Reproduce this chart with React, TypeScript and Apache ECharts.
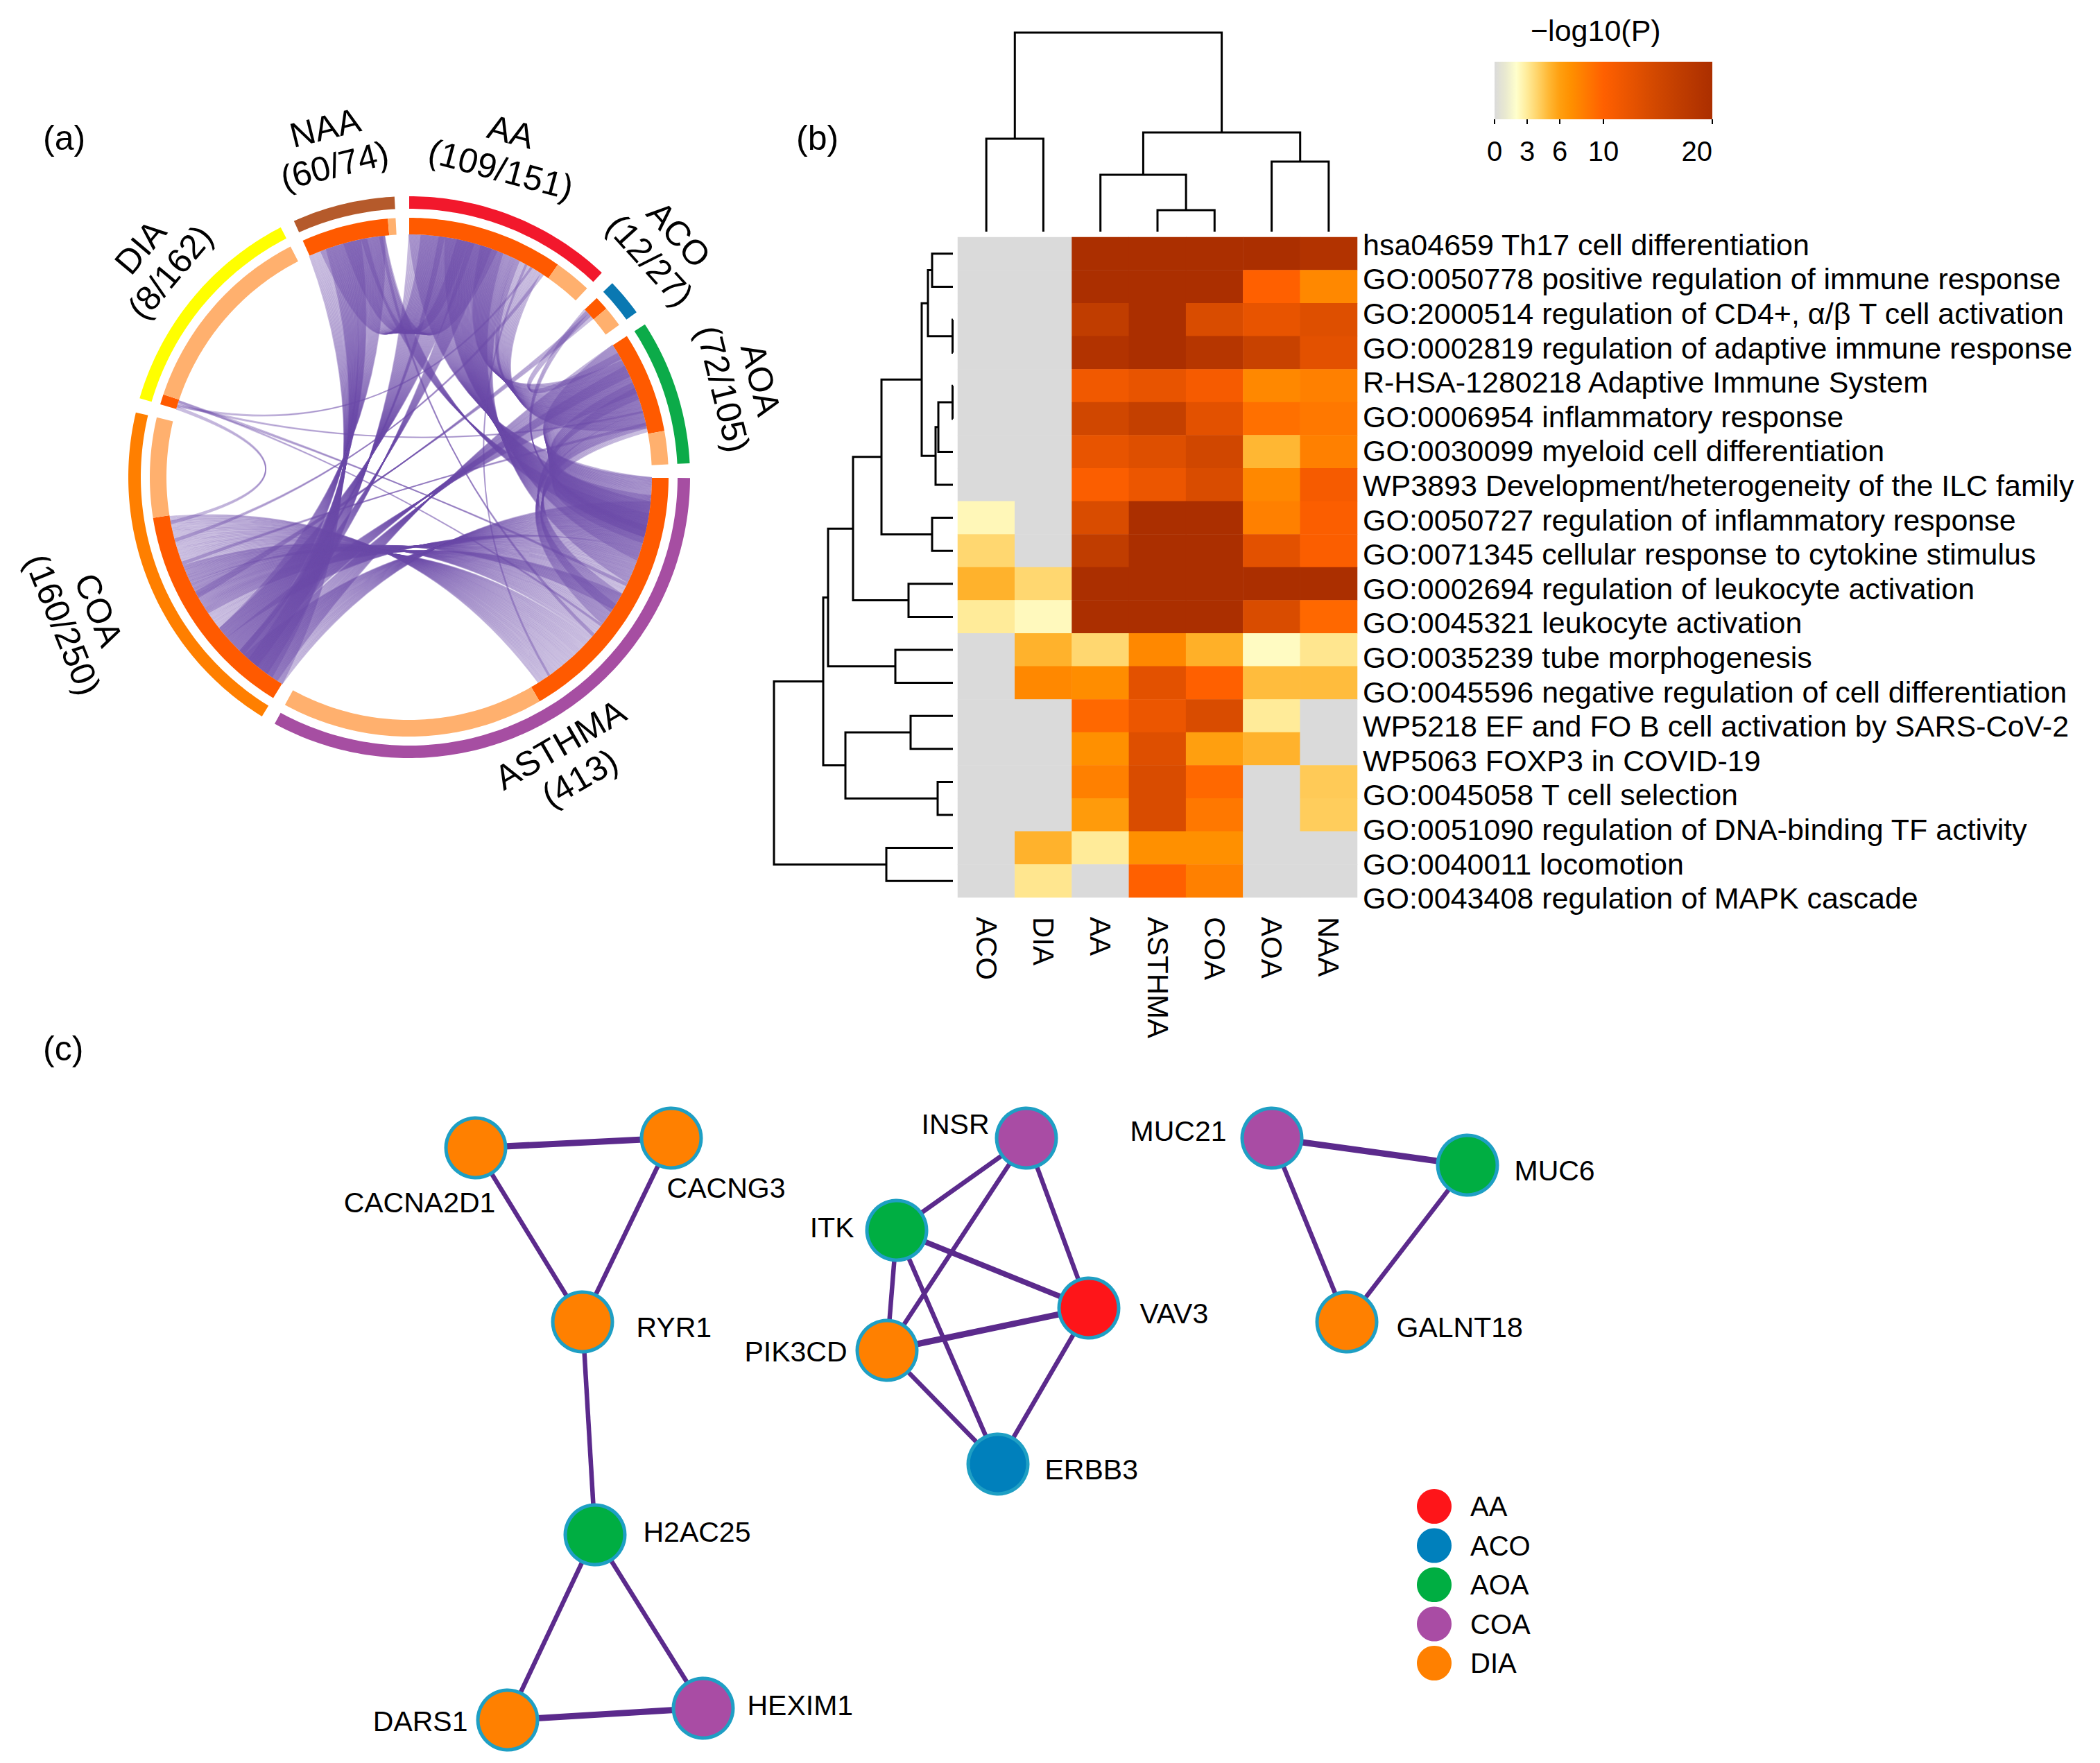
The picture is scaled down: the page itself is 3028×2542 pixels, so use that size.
import React, { useEffect, useRef } from "react";
import * as echarts from "echarts";

const FONT = "Liberation Sans";

// (a) circular plot
const sectorNames = ["AA", "ACO", "AOA", "ASTHMA", "COA", "DIA", "NAA"];
const sectorSizes = [151, 27, 105, 413, 250, 162, 74];
const sectorHits = [122, 11, 79, 208, 172, 8, 68];
const sectorColors = ["#f2182c", "#0a78b2", "#0cab49", "#a64ea2", "#ff7f00", "#ffff00", "#b55a2b"];
const sectorLabels = ["AA\n(109/151)", "ACO\n(12/27)", "AOA\n(72/105)", "ASTHMA\n(413)", "COA\n(160/250)", "DIA\n(8/162)", "NAA\n(60/74)"];
const labelAngles = [16.5, 48, 74.4, 150.5, 246.9, 310.6, 346.5];
const labelRadii = [491, 495, 498, 471, 515, 482, 490];
const labelTilts = [15, 48, 76, -30, 68, -50, -14];
const SECTOR_GAP = 10.46;
const HIT_COLOR = "#ff5a00";
const MISS_COLOR = "#ffb06e";
// from sector, offset, to sector, offset, shared genes
const bundles: [string, number, string, number, number][] = [
  ["AA", 0, "ASTHMA", 0, 60],
  ["AA", 30, "ASTHMA", 20, 50],
  ["AA", 60, "ASTHMA", 60, 30],
  ["AA", 0, "COA", 15, 30],
  ["AA", 25, "COA", 40, 30],
  ["AA", 50, "COA", 25, 20],
  ["AA", 10, "NAA", 10, 40],
  ["AA", 40, "NAA", 30, 35],
  ["AA", 90, "AOA", 50, 25],
  ["AA", 60, "AOA", 15, 35],
  ["NAA", 0, "COA", 0, 35],
  ["NAA", 15, "COA", 10, 30],
  ["NAA", 35, "COA", 40, 30],
  ["NAA", 45, "ASTHMA", 30, 20],
  ["AOA", 0, "COA", 5, 30],
  ["AOA", 20, "COA", 35, 25],
  ["AOA", 0, "ASTHMA", 0, 50],
  ["AOA", 35, "ASTHMA", 15, 40],
  ["AOA", 60, "ASTHMA", 100, 18],
  ["ASTHMA", 145, "COA", 115, 57],
  ["ASTHMA", 60, "COA", 60, 55],
  ["ASTHMA", 100, "COA", 85, 45],
  ["ASTHMA", 20, "COA", 0, 40],
  ["ASTHMA", 110, "AOA", 40, 20],
  ["ACO", 0, "ASTHMA", 40, 5],
  ["ACO", 5, "COA", 100, 6],
  ["ACO", 2, "AOA", 8, 6],
  ["DIA", 0, "COA", 165, 3],
  ["DIA", 2, "AA", 105, 2],
  ["DIA", 3, "AOA", 60, 2],
  ["DIA", 5, "ASTHMA", 90, 3],
  ["DIA", 6, "ASTHMA", 130, 2],
  ["AA", 115, "COA", 150, 3],
  ["AOA", 70, "COA", 130, 3],
  ["NAA", 60, "ASTHMA", 140, 3],
  ["AA", 100, "ASTHMA", 190, 2],
];

// (b) heat map
const columns = ["ACO", "DIA", "AA", "ASTHMA", "COA", "AOA", "NAA"];
const terms = [
  "hsa04659 Th17 cell differentiation",
  "GO:0050778 positive regulation of immune response",
  "GO:2000514 regulation of CD4+, α/β T cell activation",
  "GO:0002819 regulation of adaptive immune response",
  "R-HSA-1280218 Adaptive Immune System",
  "GO:0006954 inflammatory response",
  "GO:0030099 myeloid cell differentiation",
  "WP3893 Development/heterogeneity of the ILC family",
  "GO:0050727 regulation of inflammatory response",
  "GO:0071345 cellular response to cytokine stimulus",
  "GO:0002694 regulation of leukocyte activation",
  "GO:0045321 leukocyte activation",
  "GO:0035239 tube morphogenesis",
  "GO:0045596 negative regulation of cell differentiation",
  "WP5218 EF and FO B cell activation by SARS-CoV-2",
  "WP5063 FOXP3 in COVID-19",
  "GO:0045058 T cell selection",
  "GO:0051090 regulation of DNA-binding TF activity",
  "GO:0040011 locomotion",
  "GO:0043408 regulation of MAPK cascade",
];
const pValues = [
  [0, 0, 20, 20, 20, 20, 19],
  [0, 0, 20, 20, 20, 10, 7.5],
  [0, 0, 17, 20, 14, 12.5, 13.5],
  [0, 0, 19, 20, 18.5, 16, 13],
  [0, 0, 11.5, 12.5, 11, 7.5, 8],
  [0, 0, 15, 16.5, 13, 9, 8.5],
  [0, 0, 12.5, 13.5, 15, 5, 8],
  [0, 0, 10.5, 12, 14, 7.5, 11],
  [2.4, 0, 14, 20, 20, 8, 10.5],
  [3.8, 0, 17, 20, 20, 13, 10.5],
  [5.2, 3.8, 20, 20, 20, 20, 20],
  [3, 2.3, 20, 20, 20, 14, 9.5],
  [0, 5.2, 3.8, 7.5, 5.3, 2.2, 3.2],
  [0, 7.5, 7.2, 13, 10, 4.8, 4.8],
  [0, 0, 9.5, 12, 14, 3, 0],
  [0, 0, 7, 13.5, 6, 5.2, 0],
  [0, 0, 8, 14, 9.5, 0, 4.3],
  [0, 0, 6.3, 14, 8.5, 0, 4.2],
  [0, 5.2, 3, 7, 7, 0, 0],
  [0, 3.2, 0, 10, 8, 0, 0],
];
const colorRamp = [
  "#dadada", "#e9e9d0", "#ffffcc", "#ffeb99", "#ffd266", "#ffb733", "#ff9f0f",
  "#ff9000", "#ff8000", "#ff7000", "#ff6000", "#f65b00", "#ec5600", "#e35100",
  "#d94c00", "#d04700", "#c84200", "#c03d00", "#b93800", "#b23300", "#ab2f00",
];
const colorbarTicks = [0, 3, 6, 10, 20];
// child >= 0 is a leaf, child < 0 is merge number -(child + 1); last is height
const topMerges = [
  [0, 1, 134], [3, 4, 31], [2, -2, 82], [5, 6, 101], [-3, -4, 143], [-1, -5, 287],
];
const rowMerges = [
  [0, 1, 30], [2, 3, 0.5], [-1, -2, 36], [4, 5, 0.5], [-4, 6, 21], [-5, 7, 25], [-3, -6, 45],
  [8, 9, 30], [-7, -8, 103], [10, 11, 64], [-9, -10, 144], [12, 13, 83], [-11, -12, 180],
  [14, 15, 61], [16, 17, 22], [-14, -15, 155], [-13, -16, 187], [18, 19, 96], [-17, -18, 258],
];

// (c) network
const groupNames = ["AA", "ACO", "AOA", "COA", "DIA"];
const groupColors = ["#fe1519", "#0080bc", "#00ae42", "#a94ca4", "#ff8000"];
const genes: [string, number, number, string, string, number, number][] = [
  ["CACNA2D1", 686, 1655, "DIA", "bottom", -81, 1],
  ["CACNG3", 968, 1641, "DIA", "bottom", 79, -6],
  ["RYR1", 840, 1906, "DIA", "right", 20, 8],
  ["H2AC25", 858, 2213, "AOA", "right", 12, -4],
  ["DARS1", 732, 2480, "DIA", "left", 0, 2],
  ["HEXIM1", 1014, 2463, "COA", "right", 6, -4],
  ["INSR", 1480, 1641, "COA", "left", 4, -20],
  ["ITK", 1293, 1774, "AOA", "left", -4, -4],
  ["VAV3", 1570, 1886, "AA", "right", 16, 8],
  ["PIK3CD", 1279, 1947, "DIA", "left", 0, 2],
  ["ERBB3", 1439, 2111, "ACO", "right", 10, 8],
  ["MUC21", 1834, 1641, "COA", "left", -8, -10],
  ["MUC6", 2116, 1680, "AOA", "right", 10, 8],
  ["GALNT18", 1942, 1906, "DIA", "right", 14, 8],
];
const geneLinks: [string, string, number][] = [
  ["CACNA2D1", "CACNG3", 9], ["CACNA2D1", "RYR1", 6.5], ["CACNG3", "RYR1", 6.5], ["RYR1", "H2AC25", 6.5],
  ["H2AC25", "DARS1", 6.5], ["H2AC25", "HEXIM1", 6.5], ["DARS1", "HEXIM1", 9],
  ["INSR", "ITK", 6.5], ["INSR", "PIK3CD", 6.5], ["INSR", "VAV3", 6.5], ["ITK", "PIK3CD", 6.5], ["ITK", "VAV3", 8],
  ["ITK", "ERBB3", 6.5], ["PIK3CD", "VAV3", 9], ["PIK3CD", "ERBB3", 6.5], ["VAV3", "ERBB3", 6.5],
  ["MUC21", "MUC6", 9], ["MUC21", "GALNT18", 6.5], ["MUC6", "GALNT18", 6.5],
];

const sectorStart: Record<string, number> = {};
let cursor = 0;
sectorNames.forEach((n, i) => {
  sectorStart[n] = cursor;
  cursor += sectorSizes[i] + SECTOR_GAP;
});
const ANGLE_MAX = cursor;
const toUnits = (deg: number) => (deg / 360) * ANGLE_MAX;

function mergeSegments(merges: number[][]) {
  const pos: { p: number; h: number }[] = [];
  const node = (c: number) => (c >= 0 ? { p: c + 0.5, h: 0 } : pos[-c - 1]);
  return merges.map(([l, r, h]) => {
    const a = node(l);
    const b = node(r);
    pos.push({ p: (a.p + b.p) / 2, h });
    return [a.p, a.h, b.p, b.h, h];
  });
}

function arcPolygon(api: any, r0: number, r1: number, a0: number, a1: number) {
  const pts: number[][] = [];
  const n = Math.max(2, Math.ceil((a1 - a0) / 3));
  for (let i = 0; i <= n; i++) pts.push(api.coord([r1, a0 + ((a1 - a0) * i) / n]));
  for (let i = n; i >= 0; i--) pts.push(api.coord([r0, a0 + ((a1 - a0) * i) / n]));
  return pts;
}

export default function App() {
  const ref = useRef<HTMLDivElement>(null);
  useEffect(() => {
    const chart = echarts.init(ref.current!, null, { renderer: "svg" });
    const heatData: number[][] = [];
    pValues.forEach((row, y) => row.forEach((v, x) => heatData.push([x, y, v])));
    const ringData = sectorNames.map((_, i) => [i]);
    const hiddenValue = { show: false };
    const option: any = {
      animation: false,
      backgroundColor: "#fff",
      textStyle: { fontFamily: FONT },
      polar: { center: [590, 688], radius: 405 },
      angleAxis: { type: "value", min: 0, max: ANGLE_MAX, startAngle: 90, ...hiddenValue },
      radiusAxis: { type: "value", min: 0, max: 405, ...hiddenValue },
      grid: [
        { left: 1381, top: 342, width: 576, height: 952 },
        { left: 1381, top: 40, width: 576, height: 294 },
        { left: 1100, top: 342, width: 274, height: 952 },
        { left: 2155, top: 89, width: 314, height: 83 },
        { left: 0, top: 0, width: 3028, height: 2542 },
        { left: 1381, top: 328, width: 576, height: 992 },
      ],
      xAxis: [
        {
          gridIndex: 0, type: "category", data: columns, position: "bottom",
          axisLine: { show: false }, axisTick: { show: false },
          axisLabel: { rotate: -90, margin: 28, fontSize: 42, color: "#000", fontFamily: FONT, interval: 0 },
        },
        { gridIndex: 1, type: "value", min: 0, max: 7, ...hiddenValue },
        { gridIndex: 2, type: "value", min: 0, max: 274, inverse: true, ...hiddenValue },
        {
          gridIndex: 3, type: "value", min: 0, max: 20, position: "bottom",
          axisLine: { show: false }, splitLine: { show: false },
          axisTick: { show: true, length: 7, customValues: colorbarTicks, lineStyle: { color: "#000", width: 2 } },
          axisLabel: { customValues: colorbarTicks, margin: 26, fontSize: 40, color: "#000", fontFamily: FONT, hideOverlap: false, alignMaxLabel: "right" },
        },
        { gridIndex: 4, type: "value", min: 0, max: 3028, ...hiddenValue },
        { gridIndex: 5, type: "value", min: 0, max: 1, ...hiddenValue },
      ],
      yAxis: [
        {
          gridIndex: 0, type: "category", data: terms, inverse: true,
          axisLine: { show: false }, axisTick: { show: false }, axisLabel: { show: false },
        },
        { gridIndex: 1, type: "value", min: 0, max: 294, ...hiddenValue },
        { gridIndex: 2, type: "value", min: 0, max: 20, inverse: true, ...hiddenValue },
        { gridIndex: 3, type: "value", min: 0, max: 1, ...hiddenValue },
        { gridIndex: 4, type: "value", min: 0, max: 2542, inverse: true, ...hiddenValue },
        {
          gridIndex: 5, type: "category", data: terms, inverse: true, position: "right",
          axisLine: { show: false }, axisTick: { show: false },
          axisLabel: { margin: 8, fontSize: 43, color: "#000", fontFamily: FONT, interval: 0 },
        },
      ],
      visualMap: {
        show: false, type: "continuous", min: 0, max: 20, seriesIndex: 0, dimension: 2,
        inRange: { color: colorRamp },
      },
      legend: {
        data: groupNames, orient: "vertical", left: 2038, top: 2142, icon: "circle",
        itemWidth: 50, itemHeight: 50, itemGap: 6.5, selectedMode: false,
        itemStyle: { borderWidth: 0 },
        textStyle: { fontSize: 40, color: "#000", fontFamily: FONT, padding: [0, 0, 0, 22] },
      },
      graphic: [
        { type: "text", x: 62, y: 174, style: { text: "(a)", font: `50px "${FONT}"`, fill: "#000" } },
        { type: "text", x: 1148, y: 174, style: { text: "(b)", font: `50px "${FONT}"`, fill: "#000" } },
        { type: "text", x: 62, y: 1487, style: { text: "(c)", font: `50px "${FONT}"`, fill: "#000" } },
        { type: "text", x: 2207, y: 22, style: { text: "−log10(P)", font: `43px "${FONT}"`, fill: "#000" } },
      ],
      series: [
        {
          type: "heatmap", xAxisIndex: 0, yAxisIndex: 0, data: heatData,
          itemStyle: { borderWidth: 0 }, emphasis: { disabled: true }, silent: true,
        },
        {
          type: "custom", xAxisIndex: 1, yAxisIndex: 1, silent: true, clip: false,
          data: mergeSegments(topMerges),
          renderItem: (_: any, api: any) => {
            const [a, ah, b, bh, h] = [0, 1, 2, 3, 4].map((d) => api.value(d));
            return {
              type: "polyline",
              shape: { points: [api.coord([a, ah]), api.coord([a, h]), api.coord([b, h]), api.coord([b, bh])] },
              style: { stroke: "#000", fill: null, lineWidth: 3 },
            };
          },
        },
        {
          type: "custom", xAxisIndex: 2, yAxisIndex: 2, silent: true, clip: false,
          data: mergeSegments(rowMerges),
          renderItem: (_: any, api: any) => {
            const [a, ah, b, bh, h] = [0, 1, 2, 3, 4].map((d) => api.value(d));
            return {
              type: "polyline",
              shape: { points: [api.coord([ah, a]), api.coord([h, a]), api.coord([h, b]), api.coord([bh, b])] },
              style: { stroke: "#000", fill: null, lineWidth: 3 },
            };
          },
        },
        {
          type: "custom", xAxisIndex: 3, yAxisIndex: 3, silent: true,
          data: [[0, 20]],
          renderItem: (_: any, api: any) => {
            const p0 = api.coord([api.value(0), 1]);
            const p1 = api.coord([api.value(1), 0]);
            return {
              type: "rect",
              shape: { x: p0[0], y: p0[1], width: p1[0] - p0[0], height: p1[1] - p0[1] },
              style: {
                fill: new echarts.graphic.LinearGradient(
                  0, 0, 1, 0,
                  colorRamp.map((color, i) => ({ offset: i / (colorRamp.length - 1), color })),
                ),
              },
            };
          },
        },
        {
          type: "custom", coordinateSystem: "polar", silent: true, data: bundles.map((_, i) => [i]),
          renderItem: (params: any, api: any) => {
            const [from, fo, to, too, count] = bundles[params.dataIndex];
            const children: any[] = [];
            for (let i = 0; i < count; i++) {
              const a = sectorStart[from] + fo + i;
              const b = sectorStart[to] + too + i;
              const A = api.coord([350, a]);
              const B = api.coord([350, b]);
              let diff = b - a;
              if (diff > ANGLE_MAX / 2) diff -= ANGLE_MAX;
              if (diff < -ANGLE_MAX / 2) diff += ANGLE_MAX;
              const sep = (Math.abs(diff) / ANGLE_MAX) * 360;
              const mid = (a + diff / 2 + ANGLE_MAX) % ANGLE_MAX;
              const C = api.coord([350 * 0.25 * (1 - sep / 180), mid]);
              children.push({
                type: "bezierCurve",
                shape: { x1: A[0], y1: A[1], x2: B[0], y2: B[1], cpx1: C[0], cpy1: C[1] },
                style: { stroke: "#6b4aa8", fill: null, lineWidth: 1.8, opacity: 0.36 },
              });
            }
            return { type: "group", children };
          },
        },
        {
          type: "custom", coordinateSystem: "polar", silent: true, data: ringData,
          renderItem: (params: any, api: any) => {
            const i = params.dataIndex;
            const s = sectorStart[sectorNames[i]];
            const poly = (r0: number, r1: number, a0: number, a1: number, fill: string) => ({
              type: "polygon", shape: { points: arcPolygon(api, r0, r1, a0, a1) }, style: { fill },
            });
            return {
              type: "group",
              children: [
                poly(387, 405, s, s + sectorSizes[i], sectorColors[i]),
                poly(350, 374, s, s + sectorHits[i], HIT_COLOR),
                poly(350, 374, s + sectorHits[i], s + sectorSizes[i], MISS_COLOR),
              ],
            };
          },
        },
        {
          type: "custom", coordinateSystem: "polar", silent: true, data: ringData,
          renderItem: (params: any, api: any) => {
            const i = params.dataIndex;
            const p = api.coord([labelRadii[i], toUnits(labelAngles[i])]);
            return {
              type: "text", x: p[0], y: p[1], rotation: (-labelTilts[i] * Math.PI) / 180,
              style: {
                text: sectorLabels[i], font: `50px "${FONT}"`, fill: "#000", lineHeight: 56,
                textAlign: "center", align: "center", verticalAlign: "middle", textVerticalAlign: "middle",
              },
            };
          },
        },
        {
          type: "graph", coordinateSystem: "cartesian2d", xAxisIndex: 4, yAxisIndex: 4, layout: "none", silent: true,
          symbol: "circle", symbolSize: 86,
          categories: groupNames.map((name, i) => ({ name, itemStyle: { color: groupColors[i] } })),
          itemStyle: { borderColor: "#1e9fc4", borderWidth: 5 },
          lineStyle: { color: "#5b2a8c", opacity: 1 },
          data: genes.map(([name, x, y, g, position, ox, oy]) => ({
            name, value: [x, y], category: groupNames.indexOf(g),
            label: { show: true, formatter: name, position, offset: [ox, oy], distance: 12, fontSize: 41, color: "#000", fontFamily: FONT },
          })),
          links: geneLinks.map(([source, target, width]) => ({ source, target, lineStyle: { width } })),
        },
      ],
    };
    chart.setOption(option);
    return () => chart.dispose();
  }, []);
  return <div ref={ref} style={{ position: "absolute", left: 0, top: 0, width: 3028, height: 2542, background: "#fff" }} />;
}
